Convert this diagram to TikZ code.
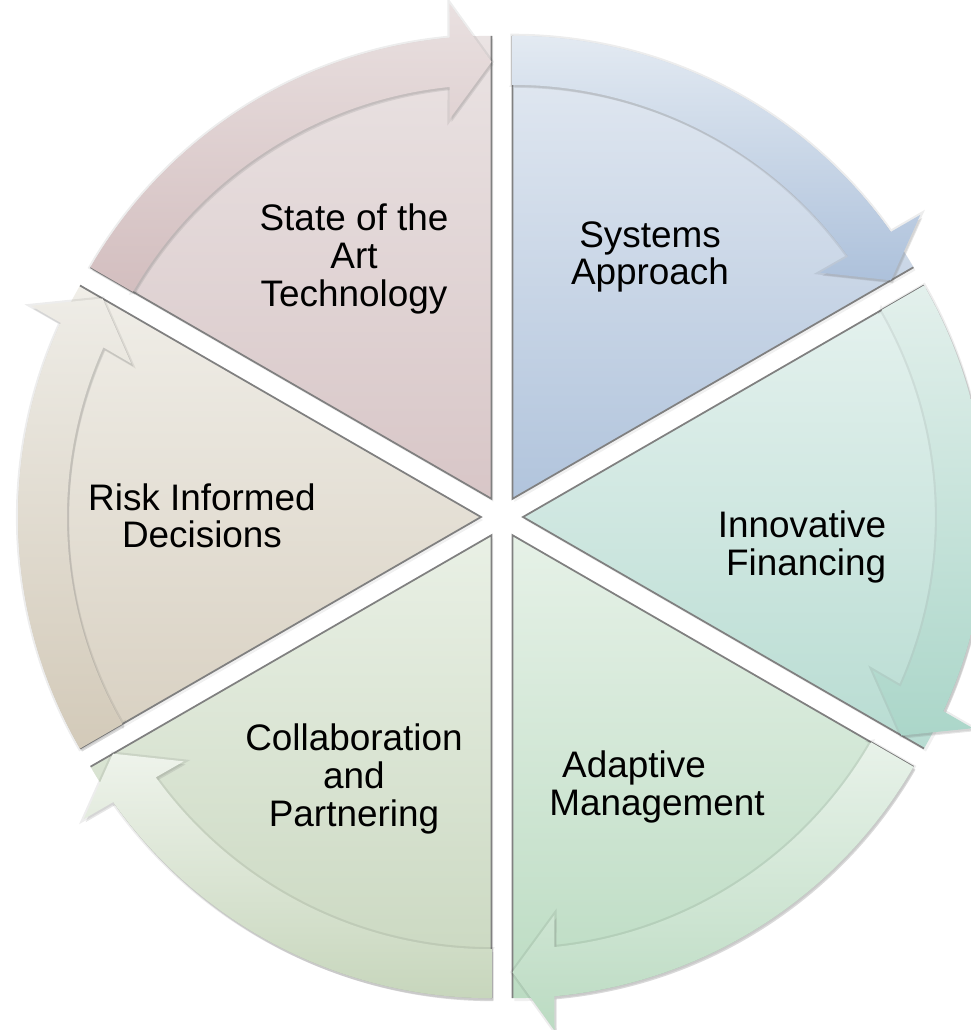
\documentclass[tikz,border=0pt]{standalone}
\usepackage{fontspec}
\setmainfont{Liberation Sans}
\usetikzlibrary{shadows}
\definecolor{stWa}{HTML}{EAE3E3}\definecolor{stWb}{HTML}{D8C6C7}
\definecolor{stBa}{HTML}{E9E0E0}\definecolor{stBb}{HTML}{D3BEBF}
\definecolor{syWa}{HTML}{E4EAF2}\definecolor{syWb}{HTML}{B1C4DC}
\definecolor{syBa}{HTML}{E3EAF2}\definecolor{syBb}{HTML}{ADC1DB}
\definecolor{fiWa}{HTML}{E6F2EF}\definecolor{fiWb}{HTML}{B8DCD2}
\definecolor{fiBa}{HTML}{E3F0EC}\definecolor{fiBb}{HTML}{ABD6C9}
\definecolor{adWa}{HTML}{E6F1E7}\definecolor{adWb}{HTML}{BCDCC3}
\definecolor{adBa}{HTML}{E8F2E9}\definecolor{adBb}{HTML}{BBDBC2}
\definecolor{coWa}{HTML}{E9F0E5}\definecolor{coWb}{HTML}{C9D7BF}
\definecolor{coBa}{HTML}{EEF3EB}\definecolor{coBb}{HTML}{C7D6BC}
\definecolor{riWa}{HTML}{F0EEE8}\definecolor{riWb}{HTML}{D8D0C1}
\definecolor{riBa}{HTML}{EEECE6}\definecolor{riBb}{HTML}{D3CAB9}
\tikzset{
  wedge/.style={top color=#1Wa, bottom color=#1Wb, drop shadow={shadow xshift=0.02, shadow yshift=-0.03, opacity=0.12}},
  band/.style={top color=#1Ba, bottom color=#1Bb, drop shadow={shadow xshift=0.02, shadow yshift=-0.03, opacity=0.2},
    preaction={draw=black, draw opacity=0.07, line width=1.2pt}},
  edgeline/.style={draw=gray, line width=0.5pt},
  segtext/.style={font=\fontsize{10.5}{10.7}\selectfont, align=center}
}
\begin{document}
\begin{tikzpicture}
	\clip (-5.02,-5.13) rectangle (4.69,5.17);
	\foreach \s/\n in {150/st,90/sy,30/fi,-30/ad,-90/co,-150/ri}{
		\pgfmathsetmacro\e{\s-60}
		\begin{scope}[shift={(\s-30:0.21)}]
			\shade[wedge=\n] (0,0) -- (\s:4.63) arc[start angle=\s, end angle=\e, radius=4.63] -- cycle;
			\draw[edgeline] (\s:4.63) -- (0,0) -- (\e:4.63);
		\end{scope}
	}
	\foreach \s/\n in {150/st,90/sy,30/fi,-30/ad,-90/co,-150/ri}{
		\pgfmathsetmacro\e{\s-60}
		\begin{scope}[shift={(\s-30:0.21)}]
			\shade[band=\n] (\s:4.14) -- (\s:4.63) arc[start angle=\s, end angle=\e+5.2, radius=4.63] -- (\e+4.85:4.97) -- (\e:4.37) -- (\e+6.31:3.82) -- (\e+5.8:4.14) arc[start angle=\e+5.8, end angle=\s, radius=4.14] -- cycle;
		\end{scope}
	}
	\node[segtext] (state) at (-1.48,2.58) {State of the\\Art\\Technology};
	\node[segtext] (systems) at (1.48,2.60) {Systems\\Approach};
	\node[segtext, align=right] (financing) at (3.00,-0.30) {Innovative\\Financing};
	\node[segtext] (adaptive) at (1.55,-2.70) {Adaptive\hspace*{0.46cm}\\Management};
	\node[segtext] (collab) at (-1.48,-2.62) {Collaboration\\and\\Partnering};
	\node[segtext] (risk) at (-3.00,0.01) {Risk Informed\\Decisions};
\end{tikzpicture}
\end{document}
